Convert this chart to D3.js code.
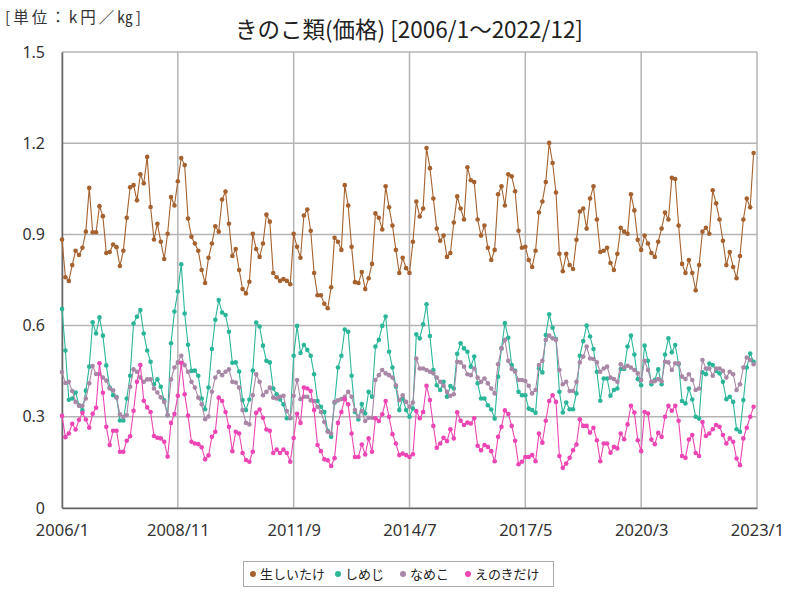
<!DOCTYPE html>
<html><head><meta charset="utf-8">
<script src="https://cdn.jsdelivr.net/npm/d3@7"></script>
<style>body{margin:0;background:#fff}svg{display:block;font-family:"Noto Sans CJK JP","Noto Sans",sans-serif}</style>
</head><body><svg id="c" width="800" height="600"></svg>
<script>
const seriesNames = ["生しいたけ","しめじ","なめこ","えのきだけ"];
const seriesColors = ["#a5622e","#2bb69a","#a888a6","#ec45b4"];
const xTickLabels = ["2006/1","2008/11","2011/9","2014/7","2017/5","2020/3","2023/1"];
const xTickIndex = [0,34,68,102,136,170,204];
const yTicks = [0,0.3,0.6,0.9,1.2,1.5];

const shiitake = [0.883,0.759,0.747,0.799,0.846,0.832,0.856,0.909,1.053,0.907,0.907,0.993,0.960,0.839,0.842,0.867,0.858,0.796,0.846,0.955,1.055,1.062,1.012,1.098,1.068,1.155,0.990,0.883,0.935,0.876,0.819,0.902,1.023,0.995,1.075,1.151,
1.128,0.952,0.892,0.870,0.846,0.783,0.740,0.823,0.870,0.927,0.909,1.015,1.041,0.935,0.829,0.852,0.783,0.720,0.706,0.744,0.902,0.852,0.826,0.870,0.965,0.942,0.773,0.759,0.747,0.753,0.747,0.736,
0.902,0.859,0.823,0.962,0.982,0.912,0.773,0.700,0.700,0.672,0.657,0.726,0.889,0.876,0.849,1.062,0.995,0.859,0.743,0.740,0.776,0.720,0.756,0.803,0.969,0.955,0.916,1.058,0.989,0.929,0.849,0.773,0.823,0.789,0.773,
0.876,1.008,0.959,0.985,1.184,1.118,1.018,0.919,0.879,0.896,0.826,0.839,0.939,1.025,0.985,0.949,1.121,1.078,1.072,0.949,0.896,0.929,0.856,0.816,0.849,1.032,1.058,0.995,1.098,1.091,1.042,0.912,0.856,
0.859,0.816,0.793,0.846,0.972,1.008,1.072,1.201,1.135,1.038,0.836,0.779,0.836,0.799,0.786,0.882,0.975,0.985,0.919,1.018,1.058,0.949,0.842,0.846,0.856,0.806,0.783,0.836,0.922,0.909,0.902,1.032,0.979,0.882,
0.849,0.896,0.870,0.839,0.826,0.876,0.919,0.972,0.949,1.086,1.082,0.929,0.803,0.773,0.816,0.773,0.716,0.799,0.909,0.922,0.902,1.045,1.002,0.949,0.879,0.799,0.842,0.793,0.756,0.829,0.949,1.018,0.989,1.168];

const shimeji = [0.655,0.518,0.356,0.360,0.380,0.338,0.321,0.386,0.465,0.611,0.574,0.627,0.567,0.469,0.396,0.371,0.365,0.288,0.288,0.360,0.435,0.607,0.629,0.651,0.574,0.518,0.481,0.407,0.423,0.399,0.354,0.305,0.542,0.646,0.712,0.802,
0.640,0.537,0.451,0.452,0.435,0.360,0.325,0.396,0.523,0.619,0.684,0.643,0.635,0.580,0.478,0.479,0.449,0.355,0.322,0.357,0.452,0.610,0.597,0.534,0.484,0.479,0.393,0.374,0.357,0.341,0.295,0.295,
0.501,0.599,0.510,0.536,0.520,0.501,0.440,0.352,0.333,0.316,0.254,0.234,0.346,0.462,0.501,0.587,0.580,0.435,0.316,0.291,0.342,0.311,0.382,0.366,0.531,0.553,0.599,0.630,0.514,0.462,0.399,0.322,0.360,0.322,0.300,
0.327,0.571,0.558,0.604,0.670,0.566,0.454,0.404,0.388,0.415,0.366,0.401,0.393,0.507,0.542,0.525,0.514,0.465,0.498,0.410,0.360,0.360,0.338,0.324,0.294,0.432,0.525,0.608,0.560,0.470,0.451,0.382,0.371,
0.371,0.327,0.322,0.313,0.459,0.446,0.569,0.637,0.593,0.556,0.382,0.314,0.347,0.325,0.325,0.377,0.501,0.549,0.600,0.564,0.523,0.448,0.353,0.426,0.426,0.369,0.388,0.393,0.457,0.457,0.531,0.567,0.505,0.424,
0.404,0.534,0.484,0.407,0.421,0.456,0.407,0.505,0.558,0.512,0.536,0.473,0.352,0.344,0.393,0.357,0.300,0.294,0.446,0.440,0.475,0.470,0.451,0.443,0.415,0.358,0.366,0.349,0.259,0.251,0.355,0.462,0.508,0.481];

const nameko = [0.447,0.411,0.415,0.385,0.349,0.336,0.336,0.360,0.410,0.467,0.441,0.441,0.429,0.419,0.393,0.387,0.363,0.308,0.299,0.305,0.399,0.456,0.448,0.429,0.415,0.423,0.423,0.393,0.380,0.364,0.349,0.305,0.423,0.462,0.479,0.501,
0.470,0.448,0.415,0.396,0.363,0.341,0.292,0.301,0.382,0.429,0.448,0.437,0.448,0.456,0.415,0.413,0.396,0.322,0.280,0.275,0.371,0.440,0.415,0.371,0.382,0.396,0.363,0.360,0.366,0.369,0.319,0.297,
0.369,0.421,0.358,0.366,0.366,0.354,0.352,0.333,0.316,0.283,0.251,0.245,0.349,0.354,0.358,0.366,0.382,0.366,0.322,0.300,0.319,0.286,0.297,0.297,0.421,0.437,0.454,0.443,0.437,0.429,0.404,0.355,0.371,0.349,0.333,
0.347,0.492,0.459,0.459,0.454,0.448,0.443,0.429,0.415,0.402,0.382,0.369,0.374,0.481,0.479,0.465,0.440,0.437,0.459,0.429,0.415,0.426,0.410,0.393,0.377,0.473,0.525,0.553,0.484,0.457,0.448,0.421,0.421,
0.418,0.402,0.377,0.388,0.470,0.484,0.553,0.567,0.558,0.553,0.454,0.407,0.415,0.385,0.385,0.415,0.479,0.498,0.531,0.492,0.490,0.479,0.448,0.459,0.465,0.429,0.424,0.415,0.473,0.462,0.468,0.462,0.454,0.443,
0.421,0.484,0.454,0.415,0.417,0.424,0.417,0.481,0.479,0.454,0.476,0.476,0.432,0.424,0.440,0.421,0.388,0.393,0.487,0.459,0.459,0.435,0.459,0.459,0.451,0.429,0.448,0.440,0.388,0.407,0.462,0.495,0.487,0.473];

const enoki = [0.303,0.233,0.245,0.277,0.258,0.290,0.313,0.291,0.264,0.310,0.330,0.476,0.379,0.267,0.207,0.254,0.254,0.185,0.185,0.221,0.236,0.320,0.415,0.470,0.353,0.331,0.316,0.237,0.231,0.229,0.218,0.169,0.280,0.309,0.369,0.478,
0.374,0.304,0.218,0.212,0.210,0.200,0.160,0.173,0.234,0.251,0.363,0.352,0.316,0.267,0.187,0.251,0.245,0.181,0.158,0.152,0.185,0.313,0.324,0.297,0.258,0.254,0.181,0.192,0.181,0.192,0.181,0.152,
0.230,0.310,0.280,0.396,0.393,0.385,0.322,0.207,0.187,0.160,0.157,0.138,0.164,0.280,0.316,0.358,0.341,0.245,0.168,0.168,0.209,0.176,0.229,0.185,0.295,0.286,0.308,0.352,0.300,0.243,0.212,0.174,0.179,0.174,0.168,
0.177,0.319,0.295,0.316,0.402,0.355,0.270,0.198,0.212,0.231,0.220,0.259,0.229,0.315,0.287,0.273,0.281,0.278,0.295,0.205,0.190,0.207,0.201,0.187,0.154,0.234,0.267,0.321,0.309,0.270,0.221,0.144,0.152,
0.168,0.168,0.174,0.154,0.245,0.215,0.287,0.352,0.371,0.349,0.171,0.132,0.146,0.165,0.190,0.209,0.292,0.270,0.270,0.248,0.264,0.223,0.154,0.212,0.212,0.182,0.201,0.196,0.245,0.226,0.275,0.336,0.314,0.223,
0.187,0.316,0.311,0.225,0.210,0.247,0.234,0.300,0.336,0.320,0.336,0.287,0.171,0.165,0.225,0.240,0.181,0.171,0.283,0.237,0.245,0.259,0.273,0.267,0.240,0.212,0.229,0.218,0.163,0.141,0.229,0.264,0.300,0.333];

const allSeries = [shiitake, shimeji, nameko, enoki];

const svg = d3.select("#c");
const L = 62, R = 757, T = 52, B = 508;
const x = d3.scaleLinear().domain([0,204]).range([L,R]);
const y = d3.scaleLinear().domain([0,1.5]).range([B,T]);

// grid
svg.append("g").selectAll("line").data(yTicks).join("line")
  .attr("x1",L).attr("x2",R).attr("y1",d=>y(d)).attr("y2",d=>y(d))
  .attr("stroke","#b4b4b4").attr("stroke-width",1.5);
svg.append("g").selectAll("line").data(xTickIndex).join("line")
  .attr("x1",d=>x(d)).attr("x2",d=>x(d)).attr("y1",T).attr("y2",B)
  .attr("stroke","#b4b4b4").attr("stroke-width",1.5);

// axes
const yAxis = d3.axisLeft(y).tickValues(yTicks).tickFormat(d=>d===0?"0":d3.format(".1f")(d)).tickSize(0).tickPadding(17);
const gy = svg.append("g").attr("transform",`translate(${L},0)`).call(yAxis);
gy.select(".domain").attr("stroke","#666").attr("stroke-width",1.5);
gy.selectAll("text").attr("font-size",16).attr("fill","#333").attr("font-family","'Noto Sans',sans-serif");

const xAxis = d3.axisBottom(x).tickValues(xTickIndex).tickFormat((d,i)=>xTickLabels[i]).tickSize(0).tickPadding(16);
const gx = svg.append("g").attr("transform",`translate(0,${B})`).call(xAxis);
gx.select(".domain").attr("stroke","#666").attr("stroke-width",1.5);
gx.selectAll("text").attr("font-size",16.5).attr("fill","#333").attr("font-family","'Noto Sans',sans-serif");

// series
const line = d3.line().x((d,i)=>x(i)).y(d=>y(d));
allSeries.forEach((s,k)=>{
  const g = svg.append("g");
  g.append("path").attr("d",line(s)).attr("fill","none").attr("stroke",seriesColors[k]).attr("stroke-width",1.1);
  g.selectAll("circle").data(s).join("circle")
    .attr("cx",(d,i)=>x(i)).attr("cy",d=>y(d)).attr("r",2.3).attr("fill",seriesColors[k]);
});

// title
svg.append("text").attr("x",409).attr("y",38).attr("text-anchor","middle")
  .attr("font-size",22.5).attr("fill","#222").text("きのこ類(価格) [2006/1～2022/12]");
svg.append("text").attr("x",5).attr("y",23).attr("font-size",15.5).attr("letter-spacing",3)
  .attr("fill","#333").text("[単位：k円／㎏]");

// legend
const lg = svg.append("g");
lg.append("rect").attr("x",243.5).attr("y",561.5).attr("width",310).attr("height",25)
  .attr("fill","#fff").attr("stroke","#aaa");
const legX = [253,338,403,468];
seriesNames.forEach((n,k)=>{
  lg.append("circle").attr("cx",legX[k]).attr("cy",574).attr("r",3).attr("fill",seriesColors[k]);
  lg.append("text").attr("x",legX[k]+7).attr("y",579).attr("font-size",13).attr("fill","#222").text(n);
});
</script></body></html>
